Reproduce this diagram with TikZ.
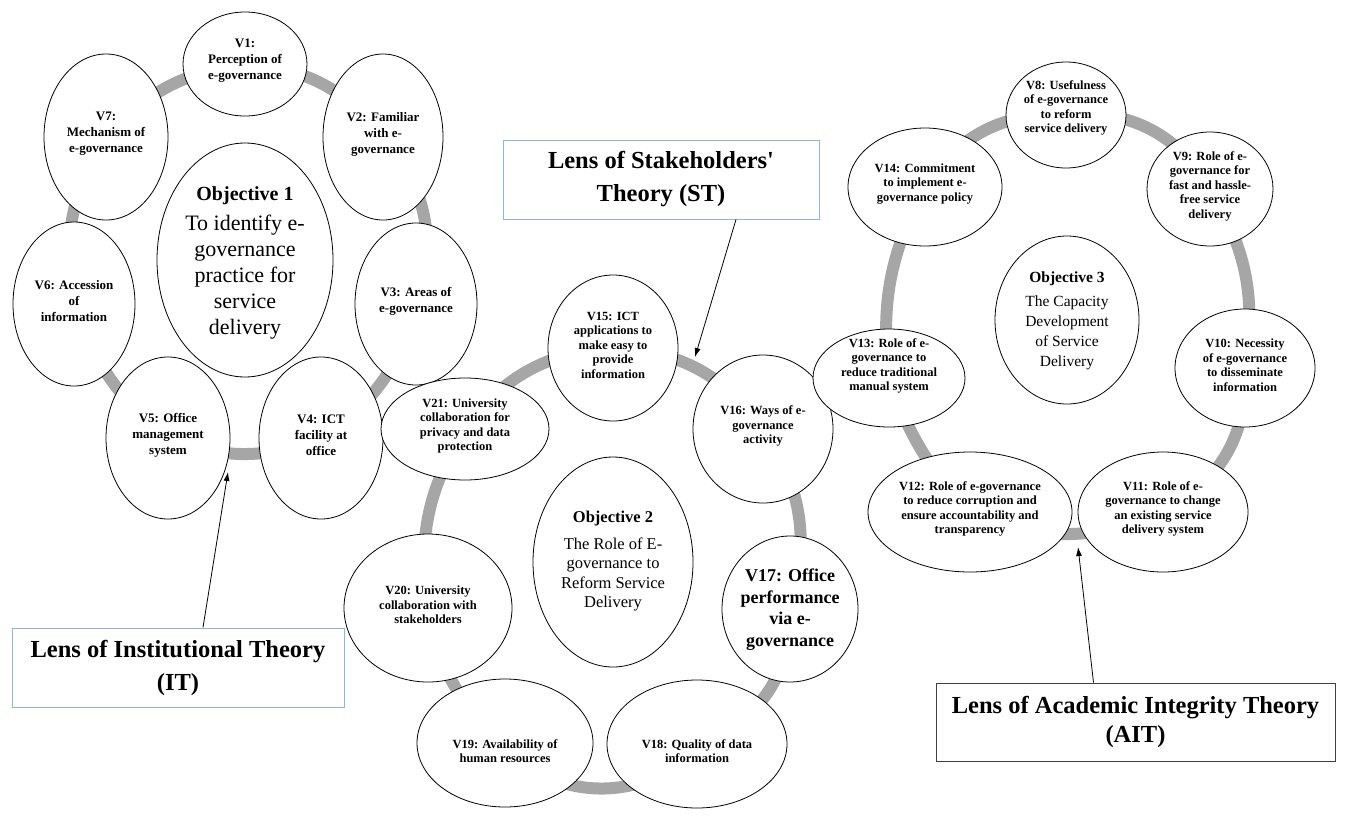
\documentclass[tikz,border=0pt]{standalone}
\usepackage{fontspec}
\setmainfont{Liberation Serif}[Ligatures=TeXOff]
\usetikzlibrary{shapes.geometric,arrows.meta}
\pgfdeclarelayer{bg}
\pgfsetlayers{bg,main}
\definecolor{ringgrey}{HTML}{A6A6A6}
\definecolor{lensblue}{HTML}{8FB4DE}
\definecolor{aitborder}{HTML}{404040}
\newsavebox\ebbox
\newcommand\ebox[2][0pt]{\setbox\ebbox=\hbox{\parbox{240pt}{\centering #2}}\raisebox{#1}[0pt][0pt]{\makebox[0pt]{\usebox\ebbox}}}
\tikzset{
  ell/.style={ellipse, draw=black, line width=0.8pt, fill=white, inner sep=0pt, outer sep=0pt},
  Lf/.style={font=\bfseries\fontsize{13}{16}\selectfont},
  Mf/.style={font=\bfseries\fontsize{12.5}{14.5}\selectfont},
  ring/.style={draw=ringgrey, line width=12pt},
  lens/.style={draw=lensblue, line width=1pt, align=center, inner sep=0pt, font=\bfseries\fontsize{24.5}{33}\selectfont},
  arr/.style={-{Latex[length=9pt,width=6pt]}, line width=0.8pt}
}
\begin{document}
\begin{tikzpicture}[x=1pt,y=-1pt]
\useasboundingbox (0,0) rectangle (1348,828);
% ---------- Left cluster ----------
\node[ell, Lf, minimum width=124pt, minimum height=104pt] (V1) at (245,64) {\ebox{V1:\\Perception of\\e-governance}};
\node[ell, Lf, minimum width=120pt, minimum height=166pt] (V2) at (383,137) {\ebox{V2: Familiar\\with e-\\governance}};
\node[ell, Lf, minimum width=122pt, minimum height=162pt] (V3) at (416,304) {\ebox{V3: Areas of\\e-governance}};
\node[ell, Lf, minimum width=124pt, minimum height=162pt] (V4) at (321,438) {\ebox{V4: ICT\\facility at\\office}};
\node[ell, Lf, minimum width=124pt, minimum height=162pt] (V5) at (168,438) {\ebox{V5: Office\\management\\system}};
\node[ell, Lf, minimum width=122pt, minimum height=164pt] (V6) at (74,304) {\ebox{V6: Accession\\of\\information}};
\node[ell, Lf, minimum width=124pt, minimum height=166pt] (V7) at (106,137) {\ebox{V7:\\Mechanism of\\e-governance}};
\node[ell, minimum width=176pt, minimum height=234pt] (O1) at (245,260) {\ebox[-5pt]{\fontsize{20}{24}\selectfont\bfseries Objective 1\par\vspace{4pt}
 \fontsize{22}{26}\selectfont\mdseries To identify e-\\governance\\practice for\\service\\delivery}};
% ---------- Middle cluster ----------
\node[ell, Mf, minimum width=130pt, minimum height=146pt] (V15) at (613,348) {\ebox{V15: ICT\\applications to\\make easy to\\provide\\information}};
\node[ell, Mf, minimum width=140pt, minimum height=148pt] (V16) at (763,429) {\ebox{V16: Ways of e-\\governance\\activity}};
\node[ell, minimum width=136pt, minimum height=146pt, font=\bfseries\fontsize{18}{21.5}\selectfont] (V17) at (790,609) {\ebox[-5pt]{V17: Office\\performance\\via e-\\governance}};
\node[ell, Mf, minimum width=180pt, minimum height=128pt] (V18) at (697,744) {\ebox[-10pt]{V18: Quality of data\\information}};
\node[ell, Mf, minimum width=176pt, minimum height=128pt] (V19) at (505,743) {\ebox[-11pt]{V19: Availability of\\human resources}};
\node[ell, Mf, minimum width=168pt, minimum height=148pt] (V20) at (428,608) {\ebox{V20: University\\collaboration with\\stakeholders}};
\node[ell, Mf, minimum width=168pt, minimum height=102pt] (V21) at (465,429) {\ebox{V21: University\\collaboration for\\privacy and data\\protection}};
\node[ell, minimum width=160pt, minimum height=210pt] (O2) at (613,562) {\ebox[-2pt]{\fontsize{16.5}{20}\selectfont\bfseries Objective 2\par\vspace{7pt}
 \fontsize{16.5}{19.5}\selectfont\mdseries The Role of E-\\governance to\\Reform Service\\Delivery}};
% ---------- Right cluster ----------
\node[ell, Mf, minimum width=120pt, minimum height=106pt] (V8) at (1066,115) {\ebox[4pt]{V8: Usefulness\\of e-governance\\to reform\\service delivery}};
\node[ell, Mf, minimum width=126pt, minimum height=114pt] (V9) at (1210,189) {\ebox{V9: Role of e-\\governance for\\fast and hassle-\\free service\\delivery}};
\node[ell, Mf, minimum width=140pt, minimum height=118pt] (V10) at (1245,368) {\ebox{V10: Necessity\\of e-governance\\to disseminate\\information}};
\node[ell, Mf, minimum width=170pt, minimum height=120pt] (V11) at (1163,512) {\ebox{V11: Role of e-\\governance to change\\an existing service\\delivery system}};
\node[ell, Mf, minimum width=204pt, minimum height=120pt] (V12) at (970,512) {\ebox{V12: Role of e-governance\\to reduce corruption and\\ensure accountability and\\transparency}};
\node[ell, Mf, minimum width=152pt, minimum height=98pt] (V13) at (889,378) {\ebox[9pt]{V13: Role of e-\\governance to\\reduce traditional\\manual system}};
\node[ell, Mf, minimum width=154pt, minimum height=118pt] (V14) at (925,187) {\ebox{V14: Commitment\\to implement e-\\governance policy}};
\node[ell, minimum width=144pt, minimum height=168pt] (O3) at (1067,320) {\ebox[-3pt]{\fontsize{15.5}{20}\selectfont\bfseries Objective 3\par\vspace{5pt}
 \fontsize{15.5}{19.8}\selectfont\mdseries The Capacity\\Development\\of Service\\Delivery}};
% ---------- Rings ----------
\begin{pgfonlayer}{bg}
\draw[ring] (V1.center) to[bend left=24] (V2.center);
\draw[ring] (V2.center) to[bend left=30] (V3.center);
\draw[ring] (V3.center) to[bend left=21] (V4.center);
\draw[ring] (V4.center) to[bend left=21] (V5.center);
\draw[ring] (V5.center) to[bend left=16] (V6.center);
\draw[ring] (V6.center) to[bend left=21] (V7.center);
\draw[ring] (V7.center) to[bend left=20] (V1.center);
\draw[ring] (V15.center) to[bend left=26] (V16.center);
\draw[ring] (V16.center) to[bend left=25] (V17.center);
\draw[ring] (V17.center) to[bend left=37] (V18.center);
\draw[ring] (V18.center) to[bend left=53] (V19.center);
\draw[ring] (V19.center) to[bend left=20] (V20.center);
\draw[ring] (V20.center) to[bend left=20] (V21.center);
\draw[ring] (V21.center) to[bend left=25] (V15.center);
\draw[ring] (V8.center) to[bend left=33] (V9.center);
\draw[ring] (V9.center) to[bend left=20] (V10.center);
\draw[ring] (V10.center) to[bend left=33] (V11.center);
\draw[ring] (V11.center) to[bend left=23] (V12.center);
\draw[ring] (V12.center) to[bend left=12] (V13.center);
\draw[ring] (V13.center) to[bend left=17] (V14.center);
\draw[ring] (V14.center) to[bend left=30] (V8.center);
\end{pgfonlayer}
% ---------- Lens boxes ----------
\node[lens, minimum width=316pt, minimum height=79pt] (ST) at (661,179.5) {Lens of Stakeholders'\\Theory (ST)};
\node[lens, minimum width=332pt, minimum height=79pt] (IT) at (178,667.5) {Lens of Institutional Theory\\(IT)};
\node[lens, draw=aitborder, minimum width=399pt, minimum height=78pt] (AIT) at (1135.5,722) {\raisebox{-4pt}{Lens of Academic Integrity Theory}\\(AIT)};
\coordinate (stt) at (695,357);
\coordinate (itt) at (228,472);
\coordinate (aitt) at (1078,547);
\draw[arr] ([xshift=75pt]ST.south) -- (stt);
\draw[arr] ([xshift=25pt]IT.north) -- (itt);
\draw[arr] ([xshift=-42pt]AIT.north) -- (aitt);
\end{tikzpicture}
\end{document}
